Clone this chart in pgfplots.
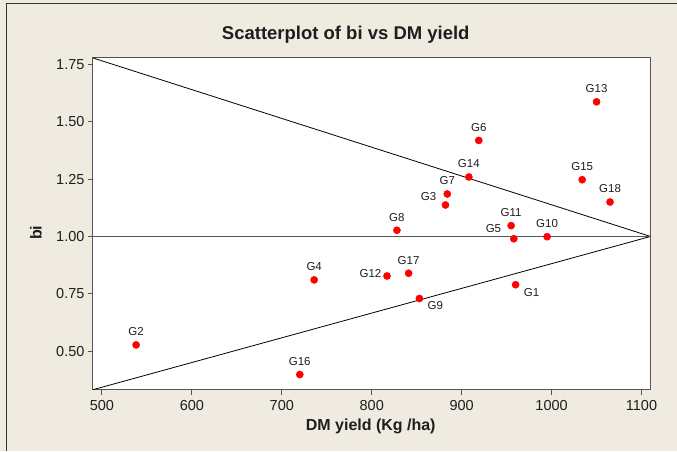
\documentclass[border=0pt]{standalone}
\usepackage{fontspec}
\setmainfont{Liberation Sans}
\usepackage{pgfplots}
\usepackage{pgfplotstable}
\pgfplotsset{compat=1.18}
\definecolor{bgc}{RGB}{239,235,225}
\definecolor{axc}{RGB}{85,85,85}
\definecolor{txt}{RGB}{30,30,30}

\pgfplotstableread{
x y label
538 0.528 G2
736 0.811 G4
919 1.418 G6
884 1.185 G7
828 1.027 G8
995 0.999 G10
955 1.047 G11
1050 1.586 G13
908 1.259 G14
1034 1.247 G15
720 0.399 G16
841 0.840 G17
1065 1.150 G18
}\above
\pgfplotstableread{
x y label
960 0.790 G1
853 0.730 G9
}\belowright
\pgfplotstableread{
x y label
882 1.137 G3
}\gthree
\pgfplotstableread{
x y label
958 0.990 G5
}\gfive
\pgfplotstableread{
x y label
817 0.828 G12
}\gtwelve

\begin{document}
\begin{tikzpicture}
\fill[bgc] (0,0) rectangle (677pt,451pt);
\draw[black!80, line width=1pt] (7pt,0) -- (7pt,447pt) -- (677pt,447pt);
\node[font=\fontsize{18.5}{20}\selectfont\bfseries, text=txt] at (346pt,416.5pt) {Scatterplot of bi vs DM yield};
\node[font=\fontsize{16}{18}\selectfont\bfseries, text=txt] at (371pt,24pt) {DM yield (Kg /ha)};
\node[font=\fontsize{16}{18}\selectfont\bfseries, text=txt, rotate=90] at (36pt,218pt) {bi};
\begin{axis}[
  at={(93pt,61pt)}, anchor=south west,
  scale only axis, width=558pt, height=332pt,
  xmin=490, xmax=1110, ymin=0.333, ymax=1.777,
  axis background/.style={fill=white},
  axis line style={axc, line width=0.9pt},
  xtick={500,600,...,1100},
  ytick={0.5,0.75,1,1.25,1.5,1.75},
  tick align=outside, tick pos=left, major tick length=5pt,
  tick style={axc, line width=0.9pt},
  /pgf/number format/assume math mode=true,
  yticklabel style={/pgf/number format/fixed, /pgf/number format/fixed zerofill, /pgf/number format/precision=2},
  xticklabel style={/pgf/number format/1000 sep={}, yshift=-2.5pt},
  ticklabel style={font=\fontsize{14.5}{16}\selectfont, text=txt},
  mark size=3.6pt,
  point meta=explicit symbolic,
]
\addplot[black, line width=0.8pt] coordinates {(490,1.777) (1110,1.0)};
\addplot[black, line width=0.8pt] coordinates {(490,0.333) (1110,1.0)};
\addplot[axc, line width=1.3pt] coordinates {(490,1.0) (1110,1.0)};

\addplot[only marks, mark=*, red, mark options={fill=red, draw=red},
  nodes near coords,
  every node near coord/.append style={anchor=center, yshift=13pt, inner sep=0pt, text=txt, font=\fontsize{11.5}{13}\selectfont}]
  table[x=x, y=y, meta=label] {\above};
\addplot[only marks, mark=*, red, mark options={fill=red, draw=red},
  nodes near coords,
  every node near coord/.append style={anchor=west, xshift=8pt, yshift=-7.5pt, inner sep=0pt, text=txt, font=\fontsize{11.5}{13}\selectfont}]
  table[x=x, y=y, meta=label] {\belowright};
\addplot[only marks, mark=*, red, mark options={fill=red, draw=red},
  nodes near coords,
  every node near coord/.append style={anchor=east, xshift=-9pt, yshift=8pt, inner sep=0pt, text=txt, font=\fontsize{11.5}{13}\selectfont}]
  table[x=x, y=y, meta=label] {\gthree};
\addplot[only marks, mark=*, red, mark options={fill=red, draw=red},
  nodes near coords,
  every node near coord/.append style={anchor=east, xshift=-12.5pt, yshift=10pt, inner sep=0pt, text=txt, font=\fontsize{11.5}{13}\selectfont}]
  table[x=x, y=y, meta=label] {\gfive};
\addplot[only marks, mark=*, red, mark options={fill=red, draw=red},
  nodes near coords,
  every node near coord/.append style={anchor=east, xshift=-5.5pt, yshift=2.5pt, inner sep=0pt, text=txt, font=\fontsize{11.5}{13}\selectfont}]
  table[x=x, y=y, meta=label] {\gtwelve};
\end{axis}
\end{tikzpicture}
\end{document}
